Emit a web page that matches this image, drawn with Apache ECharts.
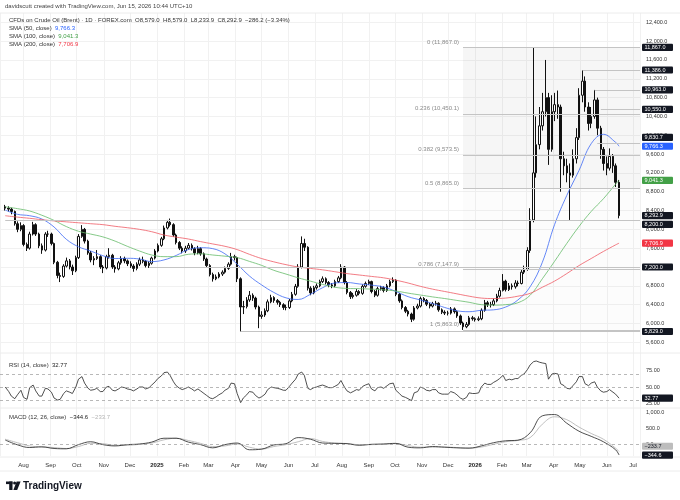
<!doctype html>
<html lang="en">
<head>
<meta charset="utf-8">
<title>CFDs on Crude Oil (Brent) - 1D</title>
<script src="https://cdn.jsdelivr.net/npm/echarts@6/dist/echarts.min.js"></script>
<style>
  html, body { margin: 0; padding: 0; background: #fff; }
  #main { width: 680px; height: 500px; }
</style>
</head>
<body>
<div id="main"></div>
<script>
// candles: one every Mon / Thu from 11 Jul 2024, open = previous close
var firstOpen = 8480;
var closes = [
  8450, 8430, 8380, 8120, 8000, 8080, 7680, 7600, 7900, 8100,
  7900, 7650, 7560, 7900, 7900, 7700, 7300, 7020, 7000, 7220,
  7330, 7200, 7120, 7400, 7850, 8000, 7750, 7500, 7350, 7380,
  7420, 7200, 7180, 7420, 7450, 7200, 7160, 7290, 7380, 7330,
  7270, 7220, 7170, 7260, 7350, 7320, 7230, 7280, 7390, 7540,
  7660, 7800, 8030, 8150, 8100, 7880, 7720, 7600, 7540, 7600,
  7660, 7590, 7500, 7590, 7480, 7370, 7230, 7040, 6950, 6990,
  7050, 7090, 7170, 7260, 7420, 7400, 6950, 6350, 6360, 6500,
  6600, 6540, 6350, 6150, 6180, 6270, 6460, 6550, 6490, 6450,
  6400, 6340, 6340, 6480, 6620, 6790, 7200, 7700, 7620, 6750,
  6650, 6760, 6800, 6890, 6950, 6870, 6820, 6800, 6890, 6970,
  7200, 6870, 6660, 6570, 6600, 6680, 6640, 6790, 6850, 6890,
  6680, 6600, 6740, 6760, 6700, 6800, 6890, 6920, 6620, 6480,
  6340, 6260, 6200, 6090, 6330, 6370, 6530, 6490, 6410, 6370,
  6420, 6430, 6290, 6240, 6220, 6220, 6310, 6250, 6160, 6010,
  5930, 5980, 6120, 6100, 6080, 6100, 6280, 6440, 6400, 6400,
  6480, 6580, 6700, 6900, 6720, 6800, 6780, 6860, 6850, 7090,
  7150, 7550, 8200, 9200, 9800, 10200, 10500, 10800, 9700, 10500,
  10650, 10600, 9500, 9350, 9200, 9150, 9500, 9950, 10850, 11150,
  10600, 10250, 10400, 10750, 10150, 9700, 9400, 9300, 9550, 9350,
  9000, 8292.9
];
var highs = [
  8520, 8490, 8460, 8400, 8170, 8150, 8110, 7720, 7950, 8160,
  8130, 7930, 7700, 7940, 7970, 7930, 7720, 7330, 7080, 7260,
  7400, 7370, 7250, 7440, 7900, 8090, 8030, 7780, 7540, 7430,
  7560, 7450, 7240, 7460, 7600, 7480, 7240, 7330, 7430, 7420,
  7360, 7320, 7260, 7300, 7400, 7420, 7350, 7320, 7420, 7580,
  7700, 7840, 8080, 8200, 8230, 8130, 7910, 7750, 7640, 7650,
  7710, 7700, 7620, 7650, 7620, 7510, 7400, 7260, 7080, 7040,
  7090, 7130, 7210, 7300, 7500, 7460, 7420, 6980, 6480, 6560,
  6690, 6640, 6570, 6380, 6260, 6320, 6510, 6610, 6580, 6520,
  6480, 6430, 6400, 6520, 6670, 6840, 7260, 7850, 7800, 7640,
  6790, 6800, 6850, 6930, 7000, 6980, 6900, 6860, 6930, 7010,
  7260, 7220, 6900, 6690, 6650, 6730, 6710, 6830, 6890, 6930,
  6910, 6710, 6780, 6800, 6790, 6840, 6930, 6980, 6940, 6650,
  6510, 6370, 6290, 6230, 6370, 6420, 6570, 6560, 6520, 6440,
  6460, 6480, 6450, 6320, 6280, 6270, 6350, 6340, 6280, 6190,
  6040, 6030, 6160, 6160, 6130, 6150, 6320, 6500, 6480, 6460,
  6530, 6630, 6760, 7050, 6930, 6860, 6850, 6920, 6910, 7150,
  7230, 7620, 8450, 11867, 10400, 10600, 10900, 11600, 10900, 10850,
  10900, 10950, 10650, 9650, 9500, 9400, 9700, 10150, 11000, 11386,
  11250, 10700, 10600, 10963, 10800, 10200, 9750, 9550, 9720, 9600,
  9400, 9050
];
var lows = [
  8400, 8380, 8320, 8080, 7940, 7960, 7640, 7540, 7570, 7870,
  7860, 7600, 7480, 7530, 7840, 7660, 7260, 6960, 6880, 6970,
  7190, 7150, 7030, 7090, 7370, 7820, 7700, 7460, 7300, 7240,
  7350, 7160, 7070, 7150, 7380, 7160, 7080, 7130, 7250, 7280,
  7220, 7180, 7100, 7130, 7220, 7280, 7190, 7180, 7250, 7360,
  7510, 7630, 7770, 8000, 8060, 7840, 7680, 7560, 7490, 7500,
  7570, 7550, 7450, 7470, 7440, 7330, 7180, 7000, 6890, 6920,
  6960, 7010, 7060, 7140, 7230, 7340, 6880, 5829, 6200, 6320,
  6460, 6480, 6300, 5900, 6100, 6140, 6240, 6430, 6440, 6400,
  6350, 6290, 6280, 6310, 6450, 6590, 6760, 7170, 7540, 6700,
  6600, 6620, 6720, 6770, 6860, 6830, 6770, 6750, 6770, 6860,
  6940, 6830, 6620, 6520, 6530, 6570, 6600, 6610, 6760, 6820,
  6640, 6560, 6570, 6700, 6660, 6670, 6770, 6860, 6580, 6440,
  6300, 6220, 6150, 6030, 6060, 6300, 6340, 6450, 6370, 6320,
  6340, 6380, 6250, 6200, 6180, 6170, 6190, 6210, 6120, 5970,
  5863, 5900, 5950, 6060, 6040, 6050, 6070, 6250, 6350, 6340,
  6370, 6450, 6550, 6680, 6680, 6690, 6720, 6740, 6790, 6830,
  7050, 7120, 7500, 8150, 9100, 9700, 10100, 10400, 9370, 9650,
  10300, 10350, 8800, 9150, 9000, 8200, 9100, 9400, 9900, 10700,
  10500, 10100, 10150, 10350, 10000, 9500, 9250, 9150, 9250, 9200,
  8900, 8233.9
];
var rsi = [
  50, 43, 36, 32, 38, 45, 34, 31, 49, 53,
  44, 36, 36, 48, 47, 42, 33, 30, 31, 40,
  44, 42, 40, 50, 62, 66, 56, 48, 45, 46,
  48, 43, 43, 50, 51, 45, 44, 47, 50, 49,
  47, 46, 44, 47, 50, 50, 47, 49, 53, 58,
  63, 67, 72, 73, 68, 58, 52, 48, 46, 48,
  50, 47, 44, 47, 44, 40, 37, 33, 32, 35,
  38, 41, 45, 48, 56, 55, 40, 26, 33, 38,
  43, 42, 37, 33, 35, 39, 46, 50, 49, 48,
  47, 45, 45, 51, 56, 62, 70, 73, 68, 48,
  46, 49, 50, 52, 53, 51, 49, 49, 51, 54,
  60, 50, 44, 41, 43, 46, 45, 51, 53, 55,
  47, 44, 49, 50, 48, 52, 55, 56, 45, 40,
  36, 34, 32, 29, 41, 43, 50, 48, 45, 44,
  46, 46, 41, 39, 39, 39, 43, 41, 38, 33,
  31, 34, 41, 40, 40, 41, 50, 56, 54, 54,
  57, 60, 63, 68, 60, 62, 61, 63, 63, 68,
  70, 77, 84, 89, 90, 88, 87, 86, 62, 70,
  71, 70, 55, 52, 48, 47, 52, 58, 66, 66,
  55, 52, 56, 58, 50, 44, 42, 43, 46, 42,
  39, 32.77
];
// smooth studies, read every 4th candle plus the last one
var sma50 = [
  8410, 8320, 8290, 8220, 8050, 7790, 7630, 7540, 7440, 7380,
  7385, 7370, 7315, 7350, 7445, 7570, 7610, 7590, 7480, 7260,
  7010, 6820, 6660, 6545, 6510, 6620, 6760, 6860, 6870, 6840,
  6815, 6775, 6680, 6570, 6500, 6425, 6340, 6270, 6250, 6280,
  6290, 6350, 6500, 6780, 7300, 8100, 8720, 9250, 9820, 10020,
  9850, 9766.3
];
var sma100 = [
  8480, 8440, 8390, 8300, 8190, 8060, 7960, 7900, 7840, 7750,
  7640, 7540, 7455, 7420, 7420, 7470, 7480, 7455, 7430, 7400,
  7320, 7235, 7130, 7050, 6970, 6900, 6830, 6770, 6745, 6740,
  6730, 6715, 6690, 6645, 6605, 6565, 6530, 6490, 6450, 6400,
  6390, 6400, 6440, 6600, 6950, 7320, 7700, 8060, 8380, 8650,
  8960, 9041.3
];
var sma200 = [
  8290, 8260, 8235, 8205, 8180, 8160, 8140, 8120, 8100, 8065,
  8035, 8000, 7950, 7880, 7835, 7795, 7740, 7690, 7640, 7570,
  7470, 7380, 7310, 7250, 7200, 7170, 7140, 7100, 7060, 7030,
  7000, 6970, 6920, 6860, 6790, 6730, 6680, 6630, 6580, 6540,
  6530, 6540, 6580, 6640, 6770, 6900, 7060, 7230, 7380, 7530,
  7670, 7706.9
];
var macd = [
  124, -25, -110, -90, -140, -150, -20, 70, -20, -60,
  -20, 0, 60, 180, 180, 60, -20, -120, -20, 30,
  -180, -160, -30, 10, 200, 150, 30, 20, 10, -40,
  -10, 0, 20, -100, -120, -80, -100, -120, -130, -60,
  40, 100, 120, 350, 880, 920, 650, 400, 240, 70,
  -180, -344.6
];
var signal = [
  150, 40, -60, -90, -110, -140, -80, 20, 10, -40,
  -40, -10, 30, 130, 180, 110, 20, -80, -60, 0,
  -100, -160, -80, -20, 70, 170, 80, 30, 15, -20,
  -20, -5, 10, -50, -100, -95, -95, -110, -125, -95,
  -10, 70, 110, 200, 620, 850, 760, 530, 330, 150,
  -130, -233.7
];
// horizontal levels and the candle each one starts from
var levels = [11867, 11386, 10963, 10550, 9830.7, 8200, 7200, 5829];
var levelFrom = [173, 189, 193, 195, 194, 0, 47, 77];
var fibRatios = [0, 0.236, 0.382, 0.5, 0.786, 1];
var fibHigh = 11867, fibLow = 5863, fibFrom = 150;
var monthNames = ['Jan','Feb','Mar','Apr','May','Jun','Jul','Aug','Sep','Oct','Nov','Dec'];

var DAY = 86400000;
var xMin = Date.UTC(2024, 6, 5), xMax = Date.UTC(2026, 6, 9);
function candleTime(i) {
  return Date.UTC(2024, 6, 11) + (7 * Math.floor(i / 2) + 4 * (i % 2)) * DAY;
}
var dates = closes.map(function (c, i) { return candleTime(i); });
var candleData = closes.map(function (c, i) {
  return [dates[i], i ? closes[i - 1] : firstOpen, c, lows[i], highs[i]];
});
var sparseIdx = [];
for (var k = 0; k < closes.length; k += 4) sparseIdx.push(k);
sparseIdx.push(closes.length - 1);
function sparse(arr) { return arr.map(function (v, j) { return [dates[sparseIdx[j]], v]; }); }
function fmt1(v) {
  return (v < 0 ? '\u2212' : '') + Math.abs(v).toLocaleString('en-US', { minimumFractionDigits: 1, maximumFractionDigits: 1 });
}
var fibLevels = fibRatios.map(function (r) { return Math.round((fibHigh - r * (fibHigh - fibLow)) * 10) / 10; });

var FONT = 'Liberation Sans, Arial, sans-serif';
var GRID_COL = '#f1f1f1';

var levelLines = levels.map(function (v, j) {
  return [{ coord: [dates[levelFrom[j]], v] }, { coord: [xMax, v] }];
}).concat(fibLevels.map(function (v) {
  return [{ coord: [dates[fibFrom], v] }, { coord: [xMax, v] }];
}));
var fibBands = [];
for (var b = 0; b < fibLevels.length - 1; b++) {
  fibBands.push([
    { coord: [dates[fibFrom], fibLevels[b]], itemStyle: { color: b < 3 ? 'rgba(0,0,0,0.035)' : 'rgba(0,0,0,0.012)' } },
    { coord: [xMax, fibLevels[b + 1]] }
  ]);
}

function hidden(g) { return { type: 'time', gridIndex: g, min: xMin, max: xMax, show: false }; }

var chart = echarts.init(document.getElementById('main'));
chart.setOption({
  animation: false,
  backgroundColor: '#ffffff',
  textStyle: { fontFamily: FONT },
  grid: [
    { left: 0, width: 640, top: 22.3, height: 320 },
    { left: 0, width: 640, top: 354.5, height: 48.75 },
    { left: 0, width: 640, top: 412, height: 48 },
    { left: 0, width: 640, top: 13, height: 443 }
  ],
  xAxis: [hidden(0), hidden(1), hidden(2), {
    type: 'time', gridIndex: 3, min: xMin, max: xMax, splitNumber: 24,
    minInterval: 28 * DAY, maxInterval: 31 * DAY,
    axisLine: { show: false }, axisTick: { show: false },
    axisLabel: {
      fontSize: 6, color: '#333', margin: 6,
      formatter: function (val) {
        var d = new Date(val);
        return d.getMonth() === 0 ? '{y|' + d.getFullYear() + '}' : monthNames[d.getMonth()];
      },
      rich: { y: { fontSize: 6, fontWeight: 'bold', color: '#222' } }
    },
    splitLine: { show: true, lineStyle: { color: GRID_COL, width: 1 } }
  }],
  yAxis: [
    {
      type: 'value', gridIndex: 0, position: 'right', min: 5600, max: 12400, interval: 400,
      axisLine: { show: false }, axisTick: { show: false },
      axisLabel: { fontSize: 5.5, color: '#333', margin: 6, formatter: fmt1 },
      splitLine: { lineStyle: { color: GRID_COL, width: 1 } }
    },
    {
      type: 'value', gridIndex: 1, position: 'right', min: 25, max: 100, interval: 25,
      axisLine: { show: false }, axisTick: { show: false }, splitLine: { show: false },
      axisLabel: { fontSize: 5.5, color: '#333', margin: 6, showMaxLabel: false,
        formatter: function (v) { return v.toFixed(2); } }
    },
    {
      type: 'value', gridIndex: 2, position: 'right', min: -500, max: 1000, interval: 500,
      axisLine: { show: false }, axisTick: { show: false }, splitLine: { show: false },
      axisLabel: { fontSize: 5.5, color: '#333', margin: 6, showMinLabel: false, formatter: fmt1 }
    },
    { type: 'value', gridIndex: 3, min: 0, max: 1, show: false }
  ],
  series: [
    {
      name: 'levels', type: 'line', xAxisIndex: 0, yAxisIndex: 0, data: [], z: 1,
      markLine: {
        silent: true, symbol: 'none', label: { show: false },
        lineStyle: { color: '#c4c4c4', width: 1, type: 'solid' },
        data: levelLines
      },
      markArea: { silent: true, data: fibBands }
    },
    {
      name: 'Brent', type: 'candlestick', xAxisIndex: 0, yAxisIndex: 0,
      data: candleData, encode: { x: 0, y: [1, 2, 3, 4] },
      barWidth: 2, z: 2,
      itemStyle: { color: '#ffffff', color0: '#111111', borderColor: '#111111', borderColor0: '#111111', borderWidth: 1 }
    },
    { name: 'SMA 50', type: 'line', xAxisIndex: 0, yAxisIndex: 0, data: sparse(sma50), smooth: 0.4, showSymbol: false, z: 3,
      lineStyle: { color: '#3d6af5', width: 0.8 } },
    { name: 'SMA 100', type: 'line', xAxisIndex: 0, yAxisIndex: 0, data: sparse(sma100), smooth: 0.4, showSymbol: false, z: 3,
      lineStyle: { color: '#66bb6a', width: 0.8 } },
    { name: 'SMA 200', type: 'line', xAxisIndex: 0, yAxisIndex: 0, data: sparse(sma200), smooth: 0.4, showSymbol: false, z: 3,
      lineStyle: { color: '#ef5a64', width: 0.8 } },
    {
      name: 'RSI', type: 'line', xAxisIndex: 1, yAxisIndex: 1,
      data: rsi.map(function (v, i) { return [dates[i], v]; }),
      showSymbol: false, lineStyle: { color: '#222', width: 0.8 },
      markLine: {
        silent: true, symbol: 'none', label: { show: false },
        lineStyle: { color: '#9a9a9a', width: 0.7, type: [3, 3] },
        data: [{ yAxis: 70 }, { yAxis: 50 }, { yAxis: 30 }]
      }
    },
    {
      name: 'Signal', type: 'line', xAxisIndex: 2, yAxisIndex: 2, data: sparse(signal), smooth: 0.4,
      showSymbol: false, lineStyle: { color: '#b0b0b0', width: 0.8 }
    },
    {
      name: 'MACD', type: 'line', xAxisIndex: 2, yAxisIndex: 2, data: sparse(macd), smooth: 0.4,
      showSymbol: false, lineStyle: { color: '#222', width: 0.8 },
      markLine: {
        silent: true, symbol: 'none', label: { show: false },
        lineStyle: { color: '#9a9a9a', width: 0.7, type: [3, 3] },
        data: [{ yAxis: 0 }]
      }
    }
  ]
});

// overlays: legends, fib labels, price badges, separators, logo
function txt(x, y, text, opts) {
  opts = opts || {};
  return {
    type: 'text', x: x, y: y, z: 100,
    style: {
      text: text, fill: opts.fill || '#333', fontSize: opts.size || 6, fontFamily: FONT,
      fontWeight: opts.weight || 'normal', align: opts.align || 'left', verticalAlign: 'middle',
      rich: opts.rich
    }
  };
}
function badge(y, text, bg, fg) {
  return [
    { type: 'rect', shape: { x: 642, y: y - 3.6, width: 31, height: 7.2, r: 1 }, style: { fill: bg } },
    txt(644.5, y, text, { fill: fg, size: 5.5 })
  ].map(function (e) { e.z = 110; return e; });
}
function placeTags(tags, axis) {
  tags.forEach(function (t) { t.y = chart.convertToPixel({ yAxisIndex: axis }, t.v); });
  tags.forEach(function (t) {
    if (t.fixed) return;
    tags.forEach(function (f) {
      if (f.fixed && Math.abs(t.y - f.y) < 8) t.y = t.v > f.v ? f.y - 8.8 : f.y + 8.8;
    });
  });
  var out = [];
  tags.forEach(function (t) { out = out.concat(badge(t.y, t.text, t.bg, t.fg)); });
  return out;
}

var g = [];
[13, 353, 408, 457, 471].forEach(function (y) {
  g.push({ type: 'line', z: 90, shape: { x1: 0, y1: y, x2: 680, y2: y }, style: { stroke: '#ececec', lineWidth: 1 } });
});

g.push(txt(5, 6.5, 'davidscutt created with TradingView.com, Jun 15, 2026 10:44 UTC+10', { fill: '#444' }));
g.push(txt(9, 20, 'CFDs on Crude Oil (Brent) \u00b7 1D \u00b7 FOREX.com  O8,579.0  H8,579.0  L8,233.9  C8,292.9  \u2212286.2 (\u22123.34%)', { fill: '#333' }));
var smaLegend = [['SMA (50, close)', sma50, '#2962ff'], ['SMA (100, close)', sma100, '#43a047'], ['SMA (200, close)', sma200, '#f23645']];
smaLegend.forEach(function (s, j) {
  g.push(txt(9, 28.5 + 8 * j, '{a|' + s[0] + '}  {b|' + fmt1(s[1][s[1].length - 1]) + '}', {
    rich: { a: { fill: '#333', fontSize: 6, fontFamily: FONT }, b: { fill: s[2], fontSize: 6, fontFamily: FONT } }
  }));
});
g.push(txt(9, 365, '{a|RSI (14, close)}  {b|' + rsi[rsi.length - 1].toFixed(2) + '}', {
  rich: { a: { fill: '#333', fontSize: 6, fontFamily: FONT }, b: { fill: '#222', fontSize: 6, fontFamily: FONT } }
}));
g.push(txt(9, 417, '{a|MACD (12, 26, close)}  {b|' + fmt1(macd[macd.length - 1]) + '}  {c|' + fmt1(signal[signal.length - 1]) + '}', {
  rich: { a: { fill: '#333', fontSize: 6, fontFamily: FONT }, b: { fill: '#222', fontSize: 6, fontFamily: FONT },
          c: { fill: '#b5b5b5', fontSize: 6, fontFamily: FONT } }
}));

// fib labels to the left of the retracement
var fibX = chart.convertToPixel({ gridIndex: 0 }, [dates[fibFrom], fibLevels[0]])[0];
fibLevels.forEach(function (v, j) {
  var y = chart.convertToPixel({ yAxisIndex: 0 }, v);
  g.push(txt(fibX - 4, y - 5.5, fibRatios[j] + ' (' + fmt1(v) + ')', { fill: '#8a8a8a', align: 'right' }));
});

// right scale badges
var priceTags = levels.map(function (v) { return { v: v, text: fmt1(v), bg: '#131722', fg: '#ffffff' }; });
priceTags.push({ v: sma50[sma50.length - 1], text: fmt1(sma50[sma50.length - 1]), bg: '#2962ff', fg: '#fff', fixed: true });
priceTags.push({ v: sma100[sma100.length - 1], text: fmt1(sma100[sma100.length - 1]), bg: '#43a047', fg: '#fff', fixed: true });
priceTags.push({ v: sma200[sma200.length - 1], text: fmt1(sma200[sma200.length - 1]), bg: '#f23645', fg: '#fff', fixed: true });
priceTags.push({ v: closes[closes.length - 1], text: fmt1(closes[closes.length - 1]), bg: '#131722', fg: '#fff', fixed: true });
g = g.concat(placeTags(priceTags, 0));
g = g.concat(placeTags([{ v: rsi[rsi.length - 1], text: rsi[rsi.length - 1].toFixed(2), bg: '#131722', fg: '#fff', fixed: true }], 1));
g = g.concat(placeTags([
  { v: macd[macd.length - 1], text: fmt1(macd[macd.length - 1]), bg: '#131722', fg: '#fff', fixed: true },
  { v: signal[signal.length - 1], text: fmt1(signal[signal.length - 1]), bg: '#bdbdbd', fg: '#131722' }
], 2));

// TradingView logo
g.push({ type: 'rect', z: 100, shape: { x: 6, y: 481.5, width: 6.5, height: 2.6 }, style: { fill: '#131722' } });
g.push({ type: 'rect', z: 100, shape: { x: 9.2, y: 481.5, width: 3.3, height: 8.5 }, style: { fill: '#131722' } });
g.push({ type: 'circle', z: 100, shape: { cx: 14.6, cy: 483, r: 1.5 }, style: { fill: '#131722' } });
g.push({ type: 'polygon', z: 100, shape: { points: [[16.6, 481.5], [20.6, 481.5], [17.2, 490], [13.4, 490]] }, style: { fill: '#131722' } });
g.push(txt(23, 486, 'TradingView', { fill: '#131722', size: 10, weight: 'bold' }));

chart.setOption({ graphic: { elements: g } });
</script>
</body>
</html>
